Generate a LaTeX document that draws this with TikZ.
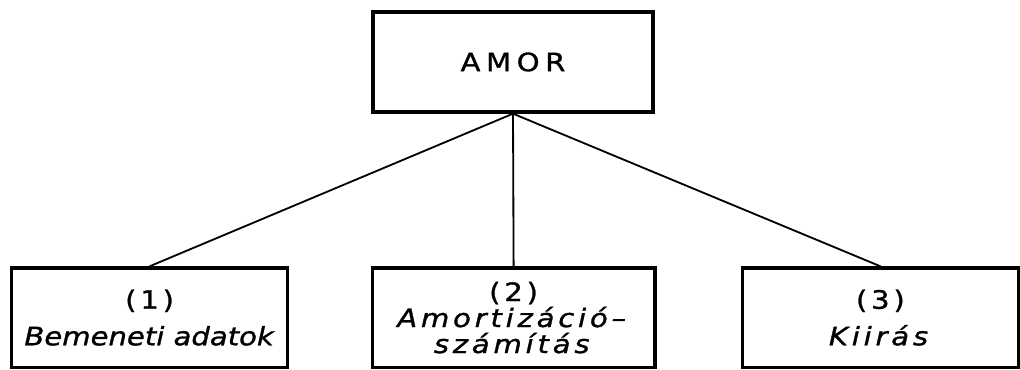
\documentclass[tikz,border=0pt]{standalone}
\usepackage{fontspec}
\setmainfont[FakeStretch=1.15,FakeBold=1.2]{DejaVu Sans}
\usepackage{tikz}
\usetikzlibrary{positioning}

\begin{document}
\begin{tikzpicture}[every node/.style={font=\fontsize{18}{18.5}\selectfont},
    box/.style={draw, line width=2.4pt, minimum width=6.9cm, minimum height=2.48cm, align=center, inner sep=2pt},
    wide/.style={font=\fontsize{18}{18.5}\selectfont\addfontfeatures{LetterSpace=15}},
    link/.style={line width=1.3pt}]
    \useasboundingbox (0,0) rectangle (25.5,9.25);
    % Main program
    \node[box, minimum width=7cm, minimum height=2.5cm] (amor) at (12.825,7.7) {\addfontfeatures{LetterSpace=22}AMOR};
    % Modules
    \node[box] (input) at (3.74,1.31) {{\addfontfeatures{LetterSpace=15}(1)}\\[7.5pt]\textit{Bemeneti adatok}};
    \node[box, wide, minimum width=7.07cm] (calc) at (12.84,1.31) {(2)\\\textit{Amortizáció–}\\\textit{számítás}};
    \node[box, wide] (output) at (22.01,1.31) {(3)\\[7.5pt]\textit{Kiirás}};

    \draw[link] (amor.south) -- (input.north);
    \draw[link] (amor.south) -- (calc.north);
    \draw[link] (amor.south) -- (output.north);
\end{tikzpicture}
\end{document}
